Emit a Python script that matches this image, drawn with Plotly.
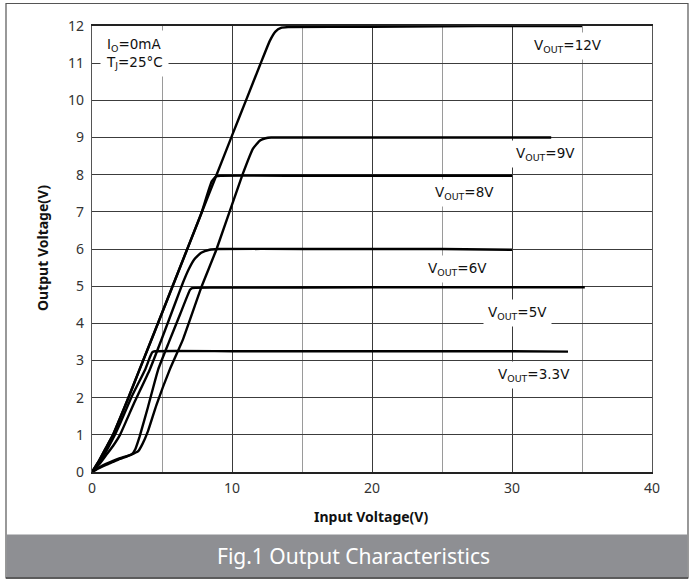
import plotly.graph_objects as go

# ---- data ----
vin_12 = [0, 0.5, 1.0, 1.5, 2.0, 2.6, 3.4, 4.5, 5.6, 6.7, 7.8, 8.85, 10.0, 11.0, 12.0, 12.7, 13.1, 13.5, 14.0, 20, 25, 30, 35]
vout_12 = [0, 0.3, 0.65, 1.0, 1.45, 2.0, 2.76, 3.8, 4.85, 5.9, 6.95, 7.95, 9.05, 10.0, 10.95, 11.6, 11.85, 11.95, 11.97, 11.98, 11.99, 12.0, 12.0]

vin_9 = [0, 0.5, 1, 1.5, 2, 2.5, 3.0, 3.3, 3.6, 4.0, 4.6, 5.56, 6.5, 7.84, 8.9, 10.75, 11.5, 12.0, 12.4, 12.8, 13.2, 20, 25, 30, 32.8]
vout_9 = [0, 0.1, 0.19, 0.27, 0.35, 0.42, 0.5, 0.56, 0.75, 1.1, 1.8, 2.76, 3.57, 5.0, 6.0, 8.0, 8.7, 8.92, 8.98, 9.0, 9.0, 9.0, 9.0, 9.0, 9.0]

vin_8 = [0, 0.5, 1.0, 1.5, 2.0, 2.6, 3.4, 4.5, 5.6, 6.7, 7.8, 8.55, 8.85, 9.2, 15, 20, 25, 30]
vout_8 = [0, 0.3, 0.65, 1.0, 1.45, 2.0, 2.76, 3.8, 4.85, 5.9, 6.95, 7.82, 7.95, 7.97, 7.97, 7.97, 7.97, 7.97]

vin_6 = [0, 0.5, 1, 1.5, 2, 3, 4.13, 5, 6, 6.5, 6.9, 7.3, 7.8, 8.4, 9, 15, 20, 25, 30]
vout_6 = [0, 0.2, 0.45, 0.7, 1.0, 1.85, 2.76, 3.6, 4.6, 5.1, 5.45, 5.72, 5.9, 5.98, 6.0, 6.0, 6.0, 6.0, 5.98]

vin_5 = [0, 0.5, 1, 1.5, 2, 2.5, 2.85, 3.1, 3.4, 4.0, 4.73, 5.5, 6.3, 7.0, 7.15, 10, 20, 30, 35.2]
vout_5 = [0, 0.12, 0.22, 0.3, 0.37, 0.43, 0.48, 0.62, 0.95, 1.75, 2.76, 3.5, 4.25, 4.9, 4.95, 4.96, 4.97, 4.97, 4.97]

vin_33 = [0, 0.5, 1, 1.5, 2, 2.8, 3.8, 4.15, 4.3, 4.5, 10, 20, 30, 34]
vout_33 = [0, 0.25, 0.55, 0.9, 1.3, 2.0, 2.76, 3.1, 3.22, 3.25, 3.25, 3.25, 3.25, 3.24]

x_ticks = [0, 10, 20, 30, 40]
y_ticks = list(range(0, 13))

label_text = ["V<sub>OUT</sub>=12V", "V<sub>OUT</sub>=9V", "V<sub>OUT</sub>=8V",
              "V<sub>OUT</sub>=6V", "V<sub>OUT</sub>=5V", "V<sub>OUT</sub>=3.3V"]
label_x = [34.0, 32.4, 26.6, 26.1, 30.4, 31.6]
label_y = [11.45, 8.55, 7.5, 5.45, 4.28, 2.62]

cond_text = "I<sub>O</sub>=0mA<br>T<sub>J</sub>=25°C"

# ---- figure ----
fig = go.Figure()
for xs, ys in [(vin_12, vout_12), (vin_9, vout_9), (vin_8, vout_8),
               (vin_6, vout_6), (vin_5, vout_5), (vin_33, vout_33)]:
    fig.add_trace(go.Scatter(x=xs, y=ys, mode="lines",
                             line=dict(color="black", width=2.4, shape="spline", smoothing=0.4),
                             showlegend=False, hoverinfo="skip"))

L, R, T, B = 92, 41, 26, 109
W, H = 693, 581
pw = W - L - R
ph = H - T - B

def px(x):
    return (x - L) / pw

def py(y):
    return (H - B - y) / ph

fig.update_layout(
    width=W, height=H,
    margin=dict(l=L, r=R, t=T, b=B),
    paper_bgcolor="white", plot_bgcolor="white",
    font=dict(family="Noto Sans", size=14, color="#333"),
    xaxis=dict(range=[0, 40], tickvals=x_ticks, showgrid=True, gridcolor="#3a3a3a", gridwidth=1.4,
               minor=dict(dtick=5, showgrid=True, gridcolor="#9a9a9a", gridwidth=1),
               zeroline=False, showline=True, linecolor="#222", linewidth=1.5, mirror=True,
               ticks="", tickfont=dict(family="Noto Sans", size=14, color="#333"), ticklabelstandoff=2),
    yaxis=dict(range=[0, 12], tickvals=y_ticks, showgrid=True, gridcolor="#3c3c3c", gridwidth=1.3,
               zeroline=False, showline=True, linecolor="#555", linewidth=1.3, mirror=True,
               ticks="", tickfont=dict(family="Noto Sans", size=14, color="#333"), ticklabelstandoff=4),
)

# outer frame and caption bar
fig.add_shape(type="rect", xref="paper", yref="paper",
              x0=px(6), x1=px(688), y0=py(578), y1=py(3.5),
              line=dict(color="#555", width=1.2), fillcolor="rgba(0,0,0,0)", layer="above")
fig.add_shape(type="rect", xref="paper", yref="paper",
              x0=px(6.5), x1=px(687.5), y0=py(577.5), y1=py(534.5),
              line=dict(width=0), fillcolor="#8e8f93", layer="above")
fig.add_shape(type="line", xref="paper", yref="paper",
              x0=px(6), x1=px(688), y0=py(578), y1=py(578),
              line=dict(color="#444", width=1.5))

fig.add_annotation(xref="paper", yref="paper", x=px(353), y=py(556),
                   xanchor="center", yanchor="middle",
                   text="Fig.1 Output Characteristics", showarrow=False,
                   font=dict(family="Noto Sans", size=21, color="white"))

# axis titles
fig.add_annotation(xref="paper", yref="paper", x=px(371), y=py(516),
                   xanchor="center", yanchor="middle",
                   text="<b>Input Voltage(V)</b>", showarrow=False,
                   font=dict(family="Noto Sans", size=14, color="#111"))
fig.add_annotation(xref="paper", yref="paper", x=px(42), y=py(248),
                   xanchor="center", yanchor="middle",
                   text="<b>Output Voltage(V)</b>", showarrow=False, textangle=-90,
                   font=dict(family="Noto Sans", size=14, color="#111"))

# condition box
fig.add_annotation(x=0.6, y=11.25, xref="x", yref="y", xanchor="left", yanchor="middle",
                   text=cond_text, align="left", showarrow=False,
                   bgcolor="white", borderpad=5,
                   font=dict(family="DejaVu Sans", size=13.5, color="#111"))

# curve labels
for t, lx, ly in zip(label_text, label_x, label_y):
    fig.add_annotation(x=lx, y=ly, xref="x", yref="y", text=t, showarrow=False,
                       bgcolor="white", borderpad=4,
                       font=dict(family="DejaVu Sans", size=13.5, color="#111"))

fig.write_html("out.html", config={"displayModeBar": False},
               post_script="document.body.style.margin='0';document.body.style.overflow='hidden';")
